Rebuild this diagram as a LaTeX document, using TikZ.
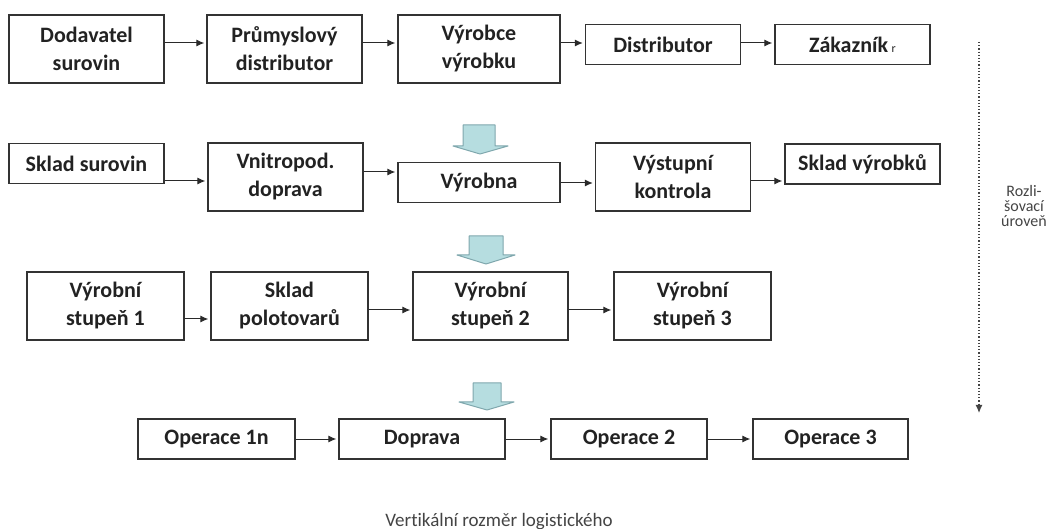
\documentclass[tikz,border=0pt]{standalone}
\usepackage{fontspec}
\setmainfont[Ligatures=NoCommon]{Carlito}
\usetikzlibrary{arrows.meta}
\definecolor{framegray}{HTML}{333333}
\definecolor{textgray}{HTML}{222222}
\definecolor{arrowgray}{HTML}{2A2A2A}
\definecolor{arrowblue}{HTML}{B6DDE0}
\definecolor{arrowrim}{HTML}{7FA7AD}
\definecolor{notegray}{HTML}{444444}
\tikzset{
  stage/.style={draw=framegray, line width=0.7pt, align=center, text=textgray,
    font=\bfseries\fontsize{11}{14}\selectfont, inner sep=0pt, minimum width=77.5pt},
  tall/.style={stage, minimum height=34pt},
  flat/.style={stage, minimum height=20pt},
  flow/.style={-{Latex[length=4pt,width=3.5pt]}, line width=0.5pt, draw=arrowgray, shorten >=1pt},
  bigarrow/.style={fill=arrowblue, draw=arrowrim, line width=0.5pt, line join=round},
  note/.style={text=notegray, align=center, inner sep=0pt}
}
\begin{document}
\begin{tikzpicture}[x=0.5pt, y=-0.5pt]
\useasboundingbox (0,0) rectangle (1061,529);
% first level
\node[tall] (dodavatel) at (86.5,49) {Dodavatel\\surovin};
\node[tall] (prumysl) at (284.5,49) {Průmyslový\\distributor};
\node[tall, minimum width=81pt] (vyrobce) at (479,49) {Výrobce\\výrobku};
\node[flat] (distrib) at (663,44.5) {Distributor};
\node[flat] (zakaznik) at (852.5,44.5) {Zákazník\,{\mdseries\fontsize{6}{6}\selectfont r}};
\draw[flow] (dodavatel.east |- 0,43) -- (prumysl.west |- 0,43);
\draw[flow] (prumysl.east |- 0,43) -- (vyrobce.west |- 0,43);
\draw[flow] (vyrobce.east |- 0,43) -- (distrib.west |- 0,43);
\draw[flow] (distrib.east |- 0,43) -- (zakaznik.west |- 0,43);
% second level
\draw[bigarrow] (463,125) -- (495,125) -- (495,146) -- (508,146) -- (480,154) -- (453,146) -- (463,146) -- cycle;
\node[flat] (skladsur) at (86.5,163.5) {Sklad surovin};
\node[tall] (vnitro) at (285.5,177) {Vnitropod.\\doprava};
\node[flat, minimum width=81pt] (vyrobna) at (479,182.5) {Výrobna};
\node[tall] (kontrola) at (673,177) {Výstupní\\kontrola};
\node[flat] (skladvyr) at (862.5,164) {Sklad výrobků};
\draw[flow] (skladsur.east |- 0,181) -- (vnitro.west |- 0,181);
\draw[flow] (vnitro.east |- 0,172) -- (vyrobna.west |- 0,172);
\draw[flow] (vyrobna.east |- 0,183) -- (kontrola.west |- 0,183);
\draw[flow] (kontrola.east |- 0,181) -- (skladvyr.west |- 0,181);
% third level
\draw[bigarrow] (469,236) -- (503,236) -- (503,255) -- (515,255) -- (486,264) -- (457,255) -- (469,255) -- cycle;
\node[tall, minimum width=78.5pt] (stupen1) at (105.5,306) {Výrobní\\stupeň 1};
\node[tall, minimum width=78.5pt] (polotov) at (289.5,306) {Sklad\\polotovarů};
\node[tall] (stupen2) at (490.5,306) {Výrobní\\stupeň 2};
\node[tall, minimum width=78.5pt] (stupen3) at (692.5,306) {Výrobní\\stupeň 3};
\draw[flow] (stupen1.east |- 0,319) -- (polotov.west |- 0,319);
\draw[flow] (polotov.east |- 0,310) -- (stupen2.west |- 0,310);
\draw[flow] (stupen2.east |- 0,310) -- (stupen3.west |- 0,310);
% fourth level
\draw[bigarrow] (473,383) -- (501,383) -- (501,402) -- (514,402) -- (487,410) -- (459,402) -- (473,402) -- cycle;
\node[flat, minimum width=78.5pt] (oper1) at (216.5,439) {Operace 1n};
\node[flat, minimum width=83pt] (doprava) at (422,439) {Doprava};
\node[flat, minimum width=78pt] (oper2) at (629,439) {Operace 2};
\node[flat] (oper3) at (830.5,439) {Operace 3};
\draw[flow] (oper1) -- (doprava);
\draw[flow] (doprava) -- (oper2);
\draw[flow] (oper2) -- (oper3);
% vertical dimension
\coordinate (levtop) at (979,42);
\coordinate (levbot) at (979,413);
\draw[densely dotted, line width=0.6pt, draw=notegray, -{Latex[length=4pt,width=3.5pt]}] (levtop) -- (levbot);
\node[note, font=\fontsize{8}{7.5}\selectfont] (rozlis) at (1024,206) {Rozli-\\šovací\\úroveň};
\node[note, font=\fontsize{9.5}{11}\selectfont, anchor=base] (vertik) at (499,526.5) {Vertikální rozměr logistického};
\end{tikzpicture}
\end{document}
